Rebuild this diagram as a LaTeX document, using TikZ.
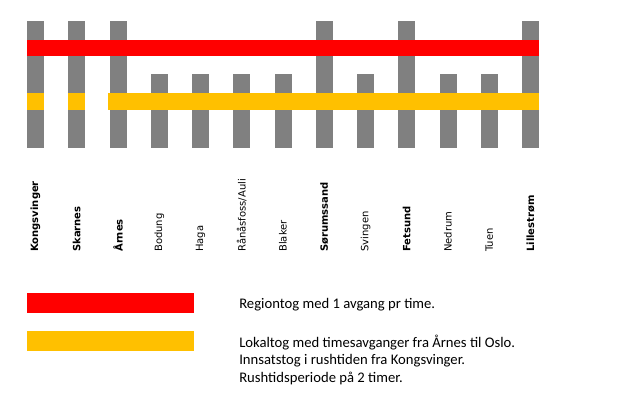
\documentclass[tikz,border=0pt]{standalone}
\usepackage{fontspec}
\setmainfont{Carlito}
\newfontfamily\stnfont{DejaVu Sans}
\usetikzlibrary{positioning}
\definecolor{trackgray}{RGB}{128, 128, 128}
\definecolor{regionred}{RGB}{255, 0, 0}
\definecolor{localyellow}{RGB}{255, 192, 0}

\begin{document}
\begin{tikzpicture}[x=0.75pt, y=-0.75pt,
          stn/.style={rotate=90, anchor=west, inner sep=0pt,
                      font=\stnfont\fontsize{7.5}{8}\selectfont},
          legtext/.style={anchor=base west, inner sep=0pt, align=left,
                      font=\fontsize{11}{13.1}\selectfont},
      ]
      \useasboundingbox (0, 0) rectangle (625, 415);
      % stations: gray bars and names
      \foreach \stn/\wt/\top [count=\i from 0] in {
          Kongsvinger/\bfseries/21, Skarnes/\bfseries/21,
          Årnes/\bfseries/21, Bodung/\mdseries/74,
          Haga/\mdseries/74, Rånåsfoss\slash Auli/\mdseries/74,
          Blaker/\mdseries/74, Sørumssand/\bfseries/21,
          Svingen/\mdseries/74, Fetsund/\bfseries/21,
          Nedrum/\mdseries/74, Tuen/\mdseries/74,
          Lillestrøm/\bfseries/21} {
        \pgfmathsetmacro\cx{35.5 + 41.25*\i}
        \fill[trackgray] (\cx-8.5, \top) rectangle (\cx+8.5, 148);
        \node[stn] (lbl\i) at (\cx, 252) {\wt\stn};
      }
      % train lines
      \fill[regionred] (27, 40) rectangle (539, 56);
      \fill[localyellow] (27, 93) rectangle (44, 110);
      \fill[localyellow] (67.75, 93) rectangle (84.75, 110);
      \fill[localyellow] (108, 93) rectangle (539, 110);
      % legend
      \fill[regionred] (27, 293) rectangle (194, 313);
      \fill[localyellow] (27, 331) rectangle (194, 351);
      \node[legtext] (regtxt) at (239, 308)
          {Regiontog med 1 avgang pr time.};
      % base of a multi-line node is its last line
      \node[legtext] (loktxt) at (239, 382)
          {Lokaltog med timesavganger fra Årnes til Oslo.\\
           Innsatstog i rushtiden fra Kongsvinger.\\
           Rushtidsperiode på 2 timer.};
      \end{tikzpicture}
\end{document}
